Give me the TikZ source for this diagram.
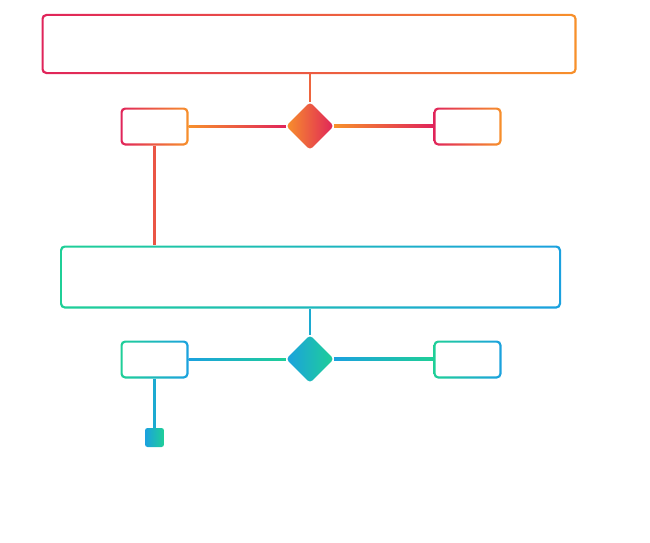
\documentclass[tikz,border=0pt]{standalone}
\usetikzlibrary{shapes.geometric,calc}
\definecolor{cred}{HTML}{E0245A}
\definecolor{corange}{HTML}{F7902B}
\definecolor{cgreen}{HTML}{1FCF97}
\definecolor{cblue}{HTML}{1BA1DF}
\tikzset{
  gbox/.style={rectangle,rounded corners=4.5pt,inner sep=0pt,
    path picture={\fill[white,rounded corners=3pt]
      ([shift={(2.2pt,2.2pt)}]path picture bounding box.south west) rectangle
      ([shift={(-2.2pt,-2.2pt)}]path picture bounding box.north east);}},
  gdiam/.style={diamond,aspect=1,rounded corners=3.5pt,inner sep=0pt,minimum size=48pt},
  warm/.style={left color=cred,right color=corange},
  cool/.style={left color=cgreen,right color=cblue},
  conn/.style={line width=2.5pt}
}
\begin{document}
\begin{tikzpicture}[x=1pt,y=-1pt]
\useasboundingbox (0,0) rectangle (650,543);
% upper group
\node[gbox,warm,minimum width=535pt,minimum height=60pt] (top) at (309,44) {};
\node[gdiam,left color=corange,right color=cred] (d1) at (310,126) {};
\node[gbox,warm,minimum width=68pt,minimum height=38pt] (l1) at (154.5,126.5) {};
\node[gbox,warm,minimum width=68pt,minimum height=38pt] (r1) at (467.5,126.5) {};
% lower group
\node[gbox,cool,minimum width=501pt,minimum height=63pt] (mid) at (310.5,277) {};
\node[gdiam,left color=cblue,right color=cgreen] (d2) at (310,359) {};
\node[gbox,cool,minimum width=68pt,minimum height=38pt] (l2) at (154.5,359.5) {};
\node[gbox,cool,minimum width=68pt,minimum height=38pt] (r2) at (467.5,359.5) {};
\node[rectangle,rounded corners=2.5pt,inner sep=0pt,minimum size=19pt,left color=cblue,right color=cgreen] (sq) at (154.5,437.5) {};
% connectors
\draw[conn,color=corange!60!cred] (d1.north |- top.south) -- (d1.north);
\draw[conn,color=corange!45!cred] (l1.south) -- (l1.south |- mid.north);
\shade[left color=corange,right color=cred] ([yshift=1.2pt]l1.east) rectangle ([yshift=-1.2pt]d1.west);
\shade[left color=corange,right color=cred] ([yshift=1.2pt]d1.east) rectangle ([yshift=-1.2pt]r1.west);
\draw[conn,color=cblue!80!cgreen] (d2.north |- mid.south) -- (d2.north);
\draw[conn,color=cblue!80!cgreen] (l2.south) -- (sq.north);
\shade[left color=cblue,right color=cgreen] ([yshift=1.2pt]l2.east) rectangle ([yshift=-1.2pt]d2.west);
\shade[left color=cblue,right color=cgreen] ([yshift=1.2pt]d2.east) rectangle ([yshift=-1.2pt]r2.west);
\end{tikzpicture}
\end{document}
